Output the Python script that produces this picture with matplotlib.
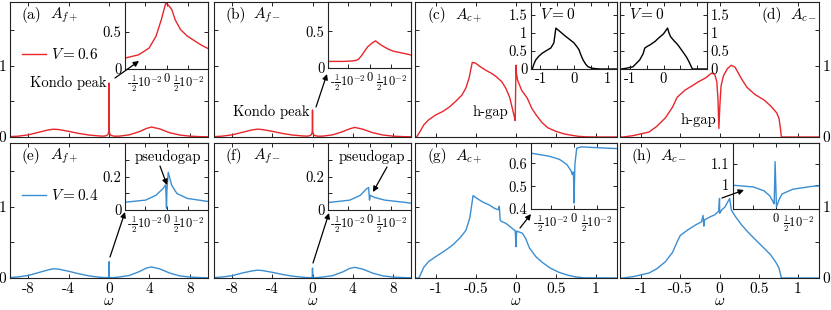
import matplotlib
matplotlib.use('Agg')
import matplotlib.pyplot as plt
from matplotlib.patches import FancyArrowPatch

plt.rcParams['font.family'] = ['cmr10', 'DejaVu Serif']
plt.rcParams['mathtext.fontset'] = 'cm'
plt.rcParams['axes.unicode_minus'] = False
plt.rcParams['axes.formatter.use_mathtext'] = True
plt.rcParams['font.size'] = 10

red = '#e8262c'
blue = '#3b8ed2'

# ---- f-electron spectra, wide window ----
w_f = [-9.8, -9, -8, -7, -6, -5.5, -5, -4, -3, -2, -1, -0.5, -0.25, -0.1, -0.03, -0.01, 0,
       0.01, 0.03, 0.1, 0.25, 0.5, 1, 2, 3, 3.7, 4.2, 5, 6, 7, 8, 9, 9.8]
A_fp_06 = [0.005, 0.012, 0.03, 0.065, 0.1, 0.11, 0.105, 0.08, 0.05, 0.028, 0.015, 0.012, 0.02, 0.035, 0.08, 0.3, 0.76,
           0.3, 0.08, 0.035, 0.02, 0.012, 0.012, 0.03, 0.075, 0.12, 0.14, 0.115, 0.06, 0.028, 0.012, 0.005, 0.003]
A_fm_06 = [0.005, 0.012, 0.03, 0.065, 0.1, 0.11, 0.105, 0.08, 0.05, 0.028, 0.015, 0.012, 0.02, 0.035, 0.07, 0.15, 0.38,
           0.15, 0.07, 0.035, 0.02, 0.012, 0.012, 0.03, 0.075, 0.115, 0.135, 0.11, 0.06, 0.028, 0.012, 0.005, 0.003]
A_fp_04 = [0.006, 0.015, 0.035, 0.075, 0.115, 0.13, 0.125, 0.095, 0.06, 0.03, 0.012, 0.006, 0.005, 0.006, 0.01, 0.05, 0.23,
           0.05, 0.01, 0.006, 0.005, 0.006, 0.014, 0.035, 0.09, 0.14, 0.155, 0.13, 0.07, 0.03, 0.013, 0.006, 0.003]
A_fm_04 = [0.006, 0.014, 0.032, 0.07, 0.1, 0.11, 0.105, 0.08, 0.05, 0.026, 0.011, 0.006, 0.005, 0.006, 0.01, 0.04, 0.14,
           0.04, 0.01, 0.006, 0.005, 0.006, 0.013, 0.033, 0.085, 0.135, 0.15, 0.125, 0.068, 0.03, 0.013, 0.006, 0.003]

# ---- f-electron spectra, zoom near 0 ----
w_ia = [-0.01, -0.0064, -0.004, -0.0024, -0.0012, -0.0002, 0.0004, 0.0012, 0.002, 0.0032, 0.0048, 0.008, 0.01]
A_ia = [0.14, 0.19, 0.28, 0.44, 0.66, 0.88, 0.86, 0.8, 0.66, 0.53, 0.44, 0.32, 0.26]
w_ib = [-0.01, -0.006, -0.004, -0.003, -0.0025, -0.0018, -0.001, -0.0004, 0.0002, 0.0008, 0.0014, 0.002, 0.003,
        0.0042, 0.0054, 0.007, 0.0086, 0.01]
A_ib = [0.09, 0.09, 0.095, 0.105, 0.12, 0.17, 0.24, 0.29, 0.32, 0.35, 0.37, 0.34, 0.3, 0.26, 0.23, 0.21, 0.19, 0.17]
w_ie = [-0.01, -0.0048, -0.0024, -0.0008, -0.0002, 0, 0.0001, 0.0004, 0.0012, 0.0024, 0.0048, 0.01]
A_ie = [0.045, 0.059, 0.088, 0.128, 0.15, 0.01, 0.12, 0.225, 0.147, 0.098, 0.069, 0.049]
w_if = [-0.01, -0.0045, -0.0021, -0.0006, -0.0002, 0, 0.0002, 0.0011, 0.0035, 0.0083, 0.01]
A_if = [0.043, 0.059, 0.088, 0.128, 0.134, 0.059, 0.088, 0.075, 0.059, 0.045, 0.038]

# ---- c-electron spectra ----
w_c = [-1.27, -1.25, -1.2, -1.16, -1.1, -1.01, -0.92, -0.84, -0.76, -0.68, -0.63, -0.59, -0.55, -0.51, -0.45, -0.38,
       -0.3, -0.25, -0.18, -0.13, -0.08, -0.05, -0.02, -0.01, 0, 0.005, 0.02, 0.07, 0.14, 0.2, 0.26, 0.33, 0.4, 0.5,
       0.6, 0.67, 0.78, 0.88, 1.0, 1.27]
A_cp_06 = [0, 0, 0.09, 0.17, 0.24, 0.31, 0.36, 0.42, 0.5, 0.59, 0.69, 0.83, 1.05, 1.04, 0.99, 0.94,
           0.89, 0.85, 0.78, 0.69, 0.56, 0.42, 0.28, 0.23, 1.01, 0.9, 0.8, 0.66, 0.55, 0.4, 0.3, 0.2, 0.13, 0.08,
           0.045, 0.03, 0.01, 0.002, 0, 0]
w_c0p = [-1.27, -1.24, -1.2, -1.14, -1.04, -0.94, -0.8, -0.69, -0.6, -0.54, -0.45, -0.3, -0.15, 0, 0.1, 0.15, 0.2,
         0.27, 0.35, 0.42, 0.55, 0.7, 0.8, 1.27]
A_c0p = [0, 0, 0.12, 0.25, 0.36, 0.44, 0.52, 0.58, 0.72, 1.13, 1.06, 0.94, 0.83, 0.72, 0.6, 0.53, 0.4,
         0.25, 0.13, 0.06, 0.02, 0.005, 0, 0]
w_cm = [-1.27, -1.23, -1.1, -0.9, -0.8, -0.69, -0.6, -0.54, -0.44, -0.35, -0.28, -0.18, -0.1, -0.06, -0.035, -0.02,
        -0.008, 0.005, 0.02, 0.05, 0.1, 0.15, 0.2, 0.28, 0.35, 0.45, 0.57, 0.65, 0.73, 0.76, 0.78, 0.79, 1.27]
A_cm_06 = [0, 0, 0.02, 0.07, 0.15, 0.27, 0.42, 0.56, 0.66, 0.72, 0.77, 0.83, 0.9, 0.88, 0.78, 0.55,
           0.12, 0.45, 0.72, 0.86, 0.96, 1.01, 0.98, 0.82, 0.7, 0.6, 0.52, 0.44, 0.34, 0.26, 0.1, 0, 0]
w_c0m = [-1.3, -1.24, -1.1, -0.9, -0.7, -0.6, -0.55, -0.45, -0.39, -0.25, -0.15, 0, 0.12, 0.16, 0.21, 0.3, 0.42,
         0.55, 0.67, 0.75, 0.82, 0.85, 1.3]
A_c0m = [0, 0, 0.02, 0.06, 0.25, 0.42, 0.58, 0.64, 0.67, 0.76, 0.85, 0.97, 1.13, 1.0, 0.89, 0.79, 0.67,
         0.5, 0.34, 0.2, 0.06, 0, 0]
w_g = [-1.27, -1.22, -1.16, -1.1, -1.01, -0.9, -0.8, -0.7, -0.63, -0.58, -0.54, -0.49, -0.42, -0.34, -0.27, -0.22,
       -0.21, -0.2, -0.19, -0.13, -0.07, -0.03, -0.01, 0, 0.005, 0.01, 0.08, 0.12, 0.17, 0.25, 0.33, 0.43, 0.54,
       0.65, 0.75, 0.85, 1.27]
A_cp_04 = [0, 0, 0.15, 0.23, 0.3, 0.38, 0.46, 0.57, 0.67, 0.85, 1.16, 1.12, 1.07, 1.03, 0.98, 0.96,
           1.01, 0.82, 0.8, 0.77, 0.72, 0.68, 0.67, 0.44, 0.6, 0.66, 0.63, 0.56, 0.42, 0.3, 0.22, 0.14, 0.08,
           0.04, 0.015, 0.003, 0]
w_h = [-1.27, -1.23, -1.1, -0.9, -0.8, -0.69, -0.6, -0.54, -0.5, -0.4, -0.3, -0.23, -0.21, -0.2, -0.19, -0.12,
       -0.06, -0.01, 0, 0.003, 0.03, 0.07, 0.13, 0.15, 0.2, 0.28, 0.36, 0.44, 0.55, 0.65, 0.72, 0.76, 0.79, 1.27]
A_cm_04 = [0, 0, 0.02, 0.07, 0.13, 0.23, 0.36, 0.51, 0.6, 0.68, 0.75, 0.79, 0.88, 0.73, 0.82, 0.86,
           0.89, 0.94, 1.12, 0.91, 0.96, 1.0, 1.12, 0.96, 0.87, 0.75, 0.65, 0.56, 0.44, 0.33, 0.22, 0.14, 0, 0]
w_ig = [-0.01, -0.0055, -0.0032, -0.0016, -0.0006, -0.0004, -0.0002, -0.0001, 0, 0.0002, 0.0006, 0.0016, 0.0056, 0.01]
A_ig = [0.647, 0.632, 0.618, 0.596, 0.566, 0.551, 0.563, 0.544, 0.426, 0.596, 0.667, 0.673, 0.669, 0.665]
w_ih = [-0.01, -0.005, -0.0026, -0.0014, -0.0006, -0.0004, -0.0002, 0.0001, 0.0006, 0.0013, 0.0037, 0.0077, 0.01]
A_ih = [1.0, 0.991, 0.972, 0.949, 0.919, 0.911, 1.111, 0.896, 0.926, 0.957, 0.98, 0.993, 0.997]

half = r'$\frac{1}{2}$10$^{-2}$'
zoom_ticks = [-0.005, 0, 0.005]
zoom_labels = ['-' + half, '0', half]

W, H = 831, 310
fig = plt.figure(figsize=(W / 100, H / 100), dpi=100)


def box(x0, y0, x1, y1):
    return fig.add_axes([x0 / W, 1 - y1 / H, (x1 - x0) / W, (y1 - y0) / H])


def P(x, y):
    return (x / W, 1 - y / H)


def style(ax, size=11):
    ax.tick_params(direction='in', length=3, width=0.6, top=True, right=True, pad=2.5, labelsize=size)
    for s in ax.spines.values():
        s.set_linewidth(0.8)
        s.set_color('#222222')


cols = [(10, 208), (214, 411), (415, 617), (620, 819)]
rows = [(2, 137), (143, 278)]

mains = {}
for r, (y0, y1) in enumerate(rows):
    for c, (x0, x1) in enumerate(cols):
        ax = box(x0, y0, x1, y1)
        style(ax)
        ax.tick_params(axis='x', pad=3)
        ax.set_ylim(0, 1.9)
        ax.set_yticks([0, 0.5, 1, 1.5])
        ax.set_yticklabels(['0', '', '1', ''])
        if c < 2:
            ax.set_xlim(-9.8, 9.8)
            ax.set_xticks([-8, -4, 0, 4, 8])
            ax.set_xticklabels(['-8', '-4', '0', '4', '8'])
        else:
            ax.set_xlim(-1.27, 1.27)
            ax.set_xticks([-1, -0.5, 0, 0.5, 1])
            ax.set_xticklabels(['-1', '-0.5', '0', '0.5', '1'])
        if r == 0:
            ax.tick_params(labelbottom=False)
        else:
            ax.set_xlabel(r'$\omega$', labelpad=-1, fontsize=11)
        if c == 3:
            ax.tick_params(labelleft=False, labelright=True)
        elif c > 0:
            ax.tick_params(labelleft=False)
        mains[(r, c)] = ax

lw = 1.0
mains[(0, 0)].plot(w_f, A_fp_06, color=red, lw=lw, label=r'$V=0.6$')
mains[(0, 1)].plot(w_f, A_fm_06, color=red, lw=lw)
mains[(0, 2)].plot(w_c, A_cp_06, color=red, lw=lw)
mains[(0, 3)].plot(w_cm, A_cm_06, color=red, lw=lw)
mains[(1, 0)].plot(w_f, A_fp_04, color=blue, lw=lw, label=r'$V=0.4$')
mains[(1, 1)].plot(w_f, A_fm_04, color=blue, lw=lw)
mains[(1, 2)].plot(w_g, A_cp_04, color=blue, lw=lw)
mains[(1, 3)].plot(w_h, A_cm_04, color=blue, lw=lw)

for key in [(0, 0), (1, 0)]:
    mains[key].legend(loc='center left', bbox_to_anchor=(0.06, 0.61), frameon=False, borderpad=0,
                      borderaxespad=0, handlelength=1.6, handletextpad=0.3, fontsize=11)

titles = {(0, 0): ('(a)', r'$A_{f+}$'), (0, 1): ('(b)', r'$A_{f-}$'), (0, 2): ('(c)', r'$A_{c+}$'),
          (1, 0): ('(e)', r'$A_{f+}$'), (1, 1): ('(f)', r'$A_{f-}$'), (1, 2): ('(g)', r'$A_{c+}$'),
          (1, 3): ('(h)', r'$A_{c-}$')}
for key, (lab, name) in titles.items():
    ax = mains[key]
    ax.text(0.06, 0.9, lab, transform=ax.transAxes, ha='left', va='center', fontsize=11)
    ax.text(0.2, 0.9, name, transform=ax.transAxes, ha='left', va='center', fontsize=11)
ax = mains[(0, 3)]
ax.text(0.71, 0.9, '(d)', transform=ax.transAxes, ha='left', va='center', fontsize=11)
ax.text(0.855, 0.9, r'$A_{c-}$', transform=ax.transAxes, ha='left', va='center', fontsize=11)


# ---- insets ----
def zoom_inset(x0, y0, x1, y1, w, A, color, ylim, yt, ylab):
    ax = box(x0, y0, x1, y1)
    style(ax, 10.5)
    ax.tick_params(axis='x', labelsize=9, pad=3)
    ax.plot(w, A, color=color, lw=lw)
    ax.set_xlim(-0.0095, 0.0095)
    ax.set_xticks(zoom_ticks)
    ax.set_xticklabels(zoom_labels)
    ax.set_ylim(*ylim)
    ax.set_yticks(yt)
    ax.set_yticklabels(ylab)
    return ax


zoom_inset(125, 2, 208, 69, w_ia, A_ia, red, (0, 0.9), [0, 0.5], ['0', '0.5'])
zoom_inset(328, 2, 411, 68, w_ib, A_ib, red, (0, 0.9), [0, 0.5], ['0', '0.5'])
zoom_inset(125, 143, 208, 210, w_ie, A_ie, blue, (0, 0.4), [0, 0.1, 0.2, 0.3], ['0', '', '0.2', ''])
zoom_inset(328, 143, 411, 210, w_if, A_if, blue, (0, 0.4), [0, 0.1, 0.2, 0.3], ['0', '', '0.2', ''])
zoom_inset(531, 143, 617, 209, w_ig, A_ig, blue, (0.4, 0.69), [0.4, 0.5, 0.6], ['0.4', '0.5', '0.6'])
axh = zoom_inset(733, 143, 819, 209, w_ih, A_ih, blue, (0.886, 1.2), [1, 1.1], ['1', '1.1'])
axh.set_xticklabels(['', '0', half])

for (x0, x1), w, A, right, xl in [((531, 617), w_c0p, A_c0p, False, ['-1', '0', '1']),
                                  ((620, 707), w_c0m, A_c0m, True, ['-1', '0', ''])]:
    ax = box(x0, 2, x1, 69)
    style(ax, 10.5)
    ax.plot(w, A, color='k', lw=lw)
    ax.set_xlim(-1.28, 1.28)
    ax.set_xticks([-1, -0.5, 0, 0.5, 1])
    ax.set_xticklabels([xl[0], '', xl[1], '', xl[2]])
    ax.set_ylim(0, 1.85)
    ax.set_yticks([0, 0.5, 1, 1.5])
    ax.set_yticklabels(['0', '0.5', '1', '1.5'])
    if right:
        ax.tick_params(labelleft=False, labelright=True)
    ax.text(0.1, 0.82, r'$V=0$', transform=ax.transAxes, ha='left', va='center', fontsize=11)

# ---- annotations ----
for (x, y), s in [((68, 83), 'Kondo peak'), ((271, 112), 'Kondo peak'), ((490, 112), 'h-gap'),
                  ((698, 120), 'h-gap'), ((168, 157), 'pseudogap'), ((372, 157), 'pseudogap')]:
    fig.text(*P(x, y), s, ha='center', va='center', fontsize=10.5)

arrows = [((115, 78), (139, 61)), ((316, 107), (327, 74)), ((110, 257), (125, 212)), ((313, 263), (329, 213)),
          ((520, 228), (531, 214)), ((722, 198), (744, 190)), ((160, 166), (167, 185)), ((387, 167), (373, 192))]
for a, b in arrows:
    fig.add_artist(FancyArrowPatch(P(*a), P(*b), transform=fig.transFigure, arrowstyle='-|>',
                                   mutation_scale=8, lw=0.9, color='k', shrinkA=0, shrinkB=0))

fig.savefig('out.png', dpi=100)
